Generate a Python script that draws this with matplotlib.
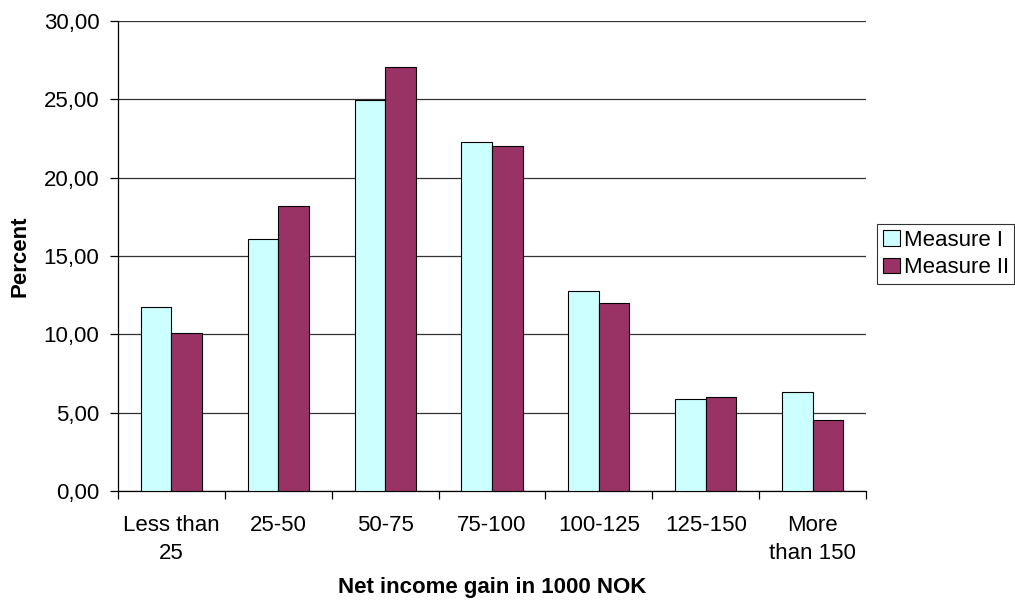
import matplotlib
matplotlib.use("Agg")
import matplotlib.pyplot as plt
from matplotlib.ticker import FuncFormatter, FixedLocator
import numpy as np

plt.rcParams['font.family'] = ['Liberation Sans', 'DejaVu Sans']

categories = ["Less than\n25", "25-50", "50-75", "75-100", "100-125", "125-150", "More\nthan 150"]
measure_1 = [11.72, 16.06, 24.96, 22.30, 12.79, 5.89, 6.32]
measure_2 = [10.11, 18.19, 27.09, 22.02, 12.02, 6.02, 4.53]
series_names = ["Measure I", "Measure II"]
y_ticks = [0, 5, 10, 15, 20, 25, 30]

W, H = 1015, 605
fig = plt.figure(figsize=(W / 100, H / 100), dpi=100)
ax = fig.add_axes([118 / W, (H - 491) / H, (866 - 118) / W, (491 - 21) / H])

x = np.arange(len(categories))
bw = 0.286
ax.bar(x - bw / 2, measure_1, bw, color="#CCFFFF", edgecolor="black", linewidth=0.8,
       label=series_names[0], zorder=3)
ax.bar(x + bw / 2, measure_2, bw, color="#993366", edgecolor="black", linewidth=0.8,
       label=series_names[1], zorder=3)

ax.set_xlim(-0.5, len(categories) - 0.5)
ax.set_ylim(0, 30)
ax.set_yticks(y_ticks)
ax.yaxis.set_major_formatter(FuncFormatter(lambda v, p: f"{v:.2f}".replace(".", ",")))
ax.grid(axis="y", color="#333333", linewidth=0.9, zorder=0)
ax.set_axisbelow(True)

ax.set_xticks(x)
ax.set_xticklabels(categories, fontsize=16)
ax.xaxis.set_minor_locator(FixedLocator(np.arange(-0.5, len(categories), 1.0)))
ax.tick_params(axis="x", which="major", length=0, pad=17)
ax.tick_params(axis="x", which="minor", length=5.5, width=0.9, direction="out", color="black")
ax.tick_params(axis="y", length=5.5, width=0.9, direction="out", labelsize=16, pad=8)

for s in ["top", "right"]:
    ax.spines[s].set_visible(False)
for s in ["left", "bottom"]:
    ax.spines[s].set_color("black")
    ax.spines[s].set_linewidth(0.9)

fig.text(20 / W, 1 - 256 / H, "Percent", rotation=90, fontsize=16, fontweight="bold",
         ha="center", va="center")
fig.text(492 / W, 1 - 588 / H, "Net income gain in 1000 NOK", fontsize=16, fontweight="bold",
         ha="center", va="center")

leg = fig.legend(loc="upper left", bbox_to_anchor=(877 / W, (H - 224) / H),
                 fontsize=16, frameon=True, fancybox=False, edgecolor="black",
                 borderaxespad=0, borderpad=0.25, handlelength=0.8, handleheight=0.7,
                 handletextpad=0.15, labelspacing=0.3)
leg.get_frame().set_linewidth(0.8)

fig.canvas.draw()
for t in ax.get_xticklabels():
    t.set_linespacing(1.45)

fig.savefig("out.png", dpi=100)
